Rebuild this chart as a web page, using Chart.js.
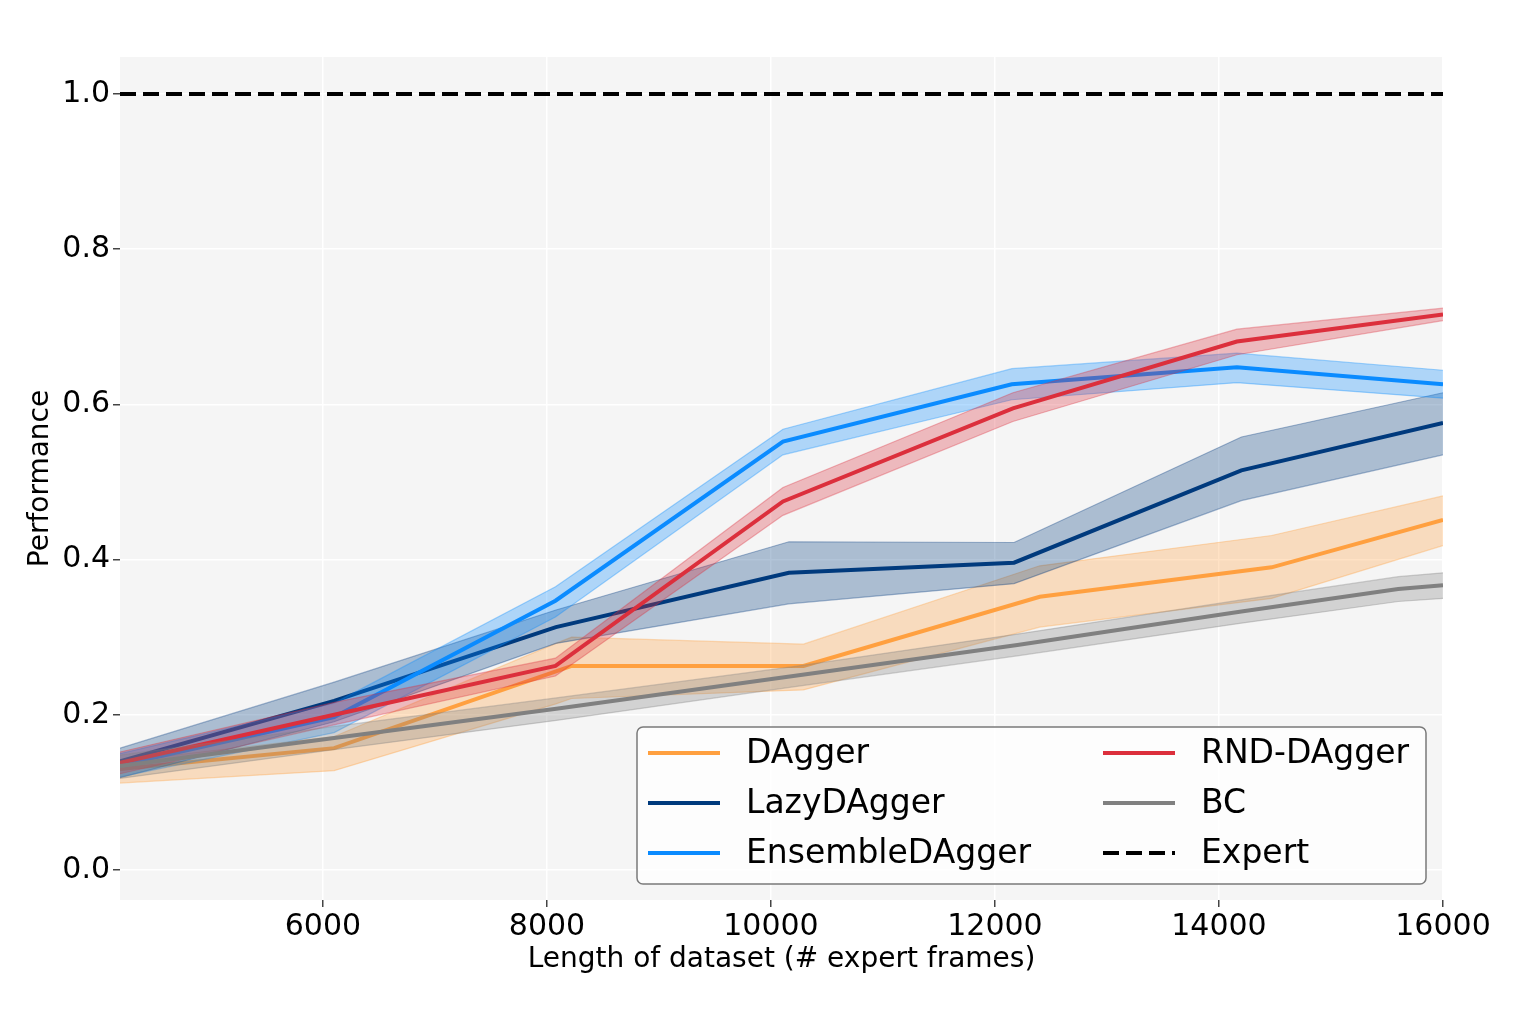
<!DOCTYPE html>
<html>
<head>
<meta charset="utf-8">
<script src="https://cdn.jsdelivr.net/npm/chart.js@4.4.1/dist/chart.umd.min.js"></script>
<style>
  body { margin: 0; background: #ffffff; }
  canvas { display: block; }
</style>
</head>
<body>
<canvas id="myChart" width="1522" height="1015"></canvas>
<script>
// values
const dagX = [4188, 6100, 8080, 8220, 10290, 12400, 14470, 16000];
const dagY = [0.130, 0.157, 0.256, 0.263, 0.263, 0.352, 0.390, 0.451];
const dagHi = [0.140, 0.172, 0.292, 0.300, 0.291, 0.392, 0.431, 0.482];
const dagLo = [0.112, 0.128, 0.214, 0.221, 0.232, 0.313, 0.350, 0.418];

const lazyX = [4188, 6100, 8080, 10160, 12170, 14200, 16000];
const lazyY = [0.140, 0.218, 0.313, 0.383, 0.396, 0.515, 0.576];
const lazyHi = [0.157, 0.242, 0.335, 0.423, 0.422, 0.558, 0.615];
const lazyLo = [0.119, 0.191, 0.292, 0.343, 0.369, 0.476, 0.535];

const ensX = [4188, 6100, 8076, 10107, 12150, 14160, 16000];
const ensY = [0.135, 0.197, 0.347, 0.552, 0.626, 0.648, 0.626];
const ensHi = [0.150, 0.215, 0.365, 0.568, 0.646, 0.666, 0.644];
const ensLo = [0.120, 0.177, 0.326, 0.535, 0.606, 0.628, 0.608];

const rndX = [4188, 6100, 8076, 10107, 12160, 14160, 16000];
const rndY = [0.138, 0.200, 0.263, 0.475, 0.595, 0.681, 0.716];
const rndHi = [0.152, 0.216, 0.273, 0.493, 0.615, 0.697, 0.724];
const rndLo = [0.124, 0.187, 0.250, 0.457, 0.578, 0.664, 0.708];

const bcX = [4188, 6100, 8100, 10200, 12200, 14200, 15600, 16000];
const bcY = [0.134, 0.170, 0.208, 0.250, 0.290, 0.333, 0.362, 0.367];
const bcHi = [0.148, 0.185, 0.222, 0.262, 0.304, 0.348, 0.378, 0.383];
const bcLo = [0.118, 0.155, 0.193, 0.236, 0.276, 0.318, 0.346, 0.350];

const expertX = [4188, 16000];
const expertY = [1.0, 1.0];

const xTicks = [6000, 8000, 10000, 12000, 14000, 16000];
const yTicks = [0.0, 0.2, 0.4, 0.6, 0.8, 1.0];

const series = [
  { label: 'DAgger', x: dagX, y: dagY, hi: dagHi, lo: dagLo, rgb: '255, 160, 64' },
  { label: 'LazyDAgger', x: lazyX, y: lazyY, hi: lazyHi, lo: lazyLo, rgb: '0, 58, 125' },
  { label: 'EnsembleDAgger', x: ensX, y: ensY, hi: ensHi, lo: ensLo, rgb: '10, 139, 255' },
  { label: 'RND-DAgger', x: rndX, y: rndY, hi: rndHi, lo: rndLo, rgb: '220, 47, 60' },
  { label: 'BC', x: bcX, y: bcY, hi: bcHi, lo: bcLo, rgb: '128, 128, 128' },
];

// column-major order of the legend
const legendOrder = ['DAgger', 'LazyDAgger', 'EnsembleDAgger', 'RND-DAgger', 'BC', 'Expert'];

function points(xs, ys) {
  return xs.map((x, i) => ({ x: x, y: ys[i] }));
}

function build_datasets() {
  const list = [];
  series.forEach((s) => {
    list.push({
      data: points(s.x, s.hi),
      borderColor: 'rgba(' + s.rgb + ', 0.35)',
      borderWidth: 1.2,
      backgroundColor: 'rgba(' + s.rgb + ', 0.3)',
      fill: '+1',
      band: true,
    });
    list.push({
      data: points(s.x, s.lo),
      borderColor: 'rgba(' + s.rgb + ', 0.35)',
      borderWidth: 1.2,
      fill: false,
      band: true,
    });
    list.push({
      label: s.label,
      data: points(s.x, s.y),
      borderColor: 'rgb(' + s.rgb + ')',
      borderWidth: 4,
      fill: false,
    });
  });
  list.push({
    label: 'Expert',
    data: points(expertX, expertY),
    borderColor: '#000000',
    borderWidth: 4,
    borderDash: [16, 7],
    fill: false,
  });
  // first in the list is painted first
  const n = list.length;
  list.forEach((d, i) => {
    d.order = n - i;
    d.pointRadius = 0;
    d.tension = 0;
  });
  return list;
}

const background = {
  id: 'background',
  beforeDraw(chart) {
    const ctx = chart.ctx;
    const a = chart.chartArea;
    ctx.save();
    ctx.fillStyle = '#ffffff';
    ctx.fillRect(0, 0, chart.width, chart.height);
    ctx.fillStyle = '#f5f5f5';
    ctx.fillRect(a.left, a.top, a.right - a.left, a.bottom - a.top);
    ctx.restore();
  },
};

const boxLegend = {
  id: 'boxLegend',
  afterDraw(chart) {
    const ctx = chart.ctx;
    const left = 637, top = 727, right = 1426, bottom = 884;
    ctx.save();
    ctx.beginPath();
    ctx.roundRect(left, top, right - left, bottom - top, 6);
    ctx.fillStyle = 'rgba(255, 255, 255, 0.8)';
    ctx.fill();
    ctx.lineWidth = 1.5;
    ctx.strokeStyle = '#7a7a7a';
    ctx.stroke();

    ctx.font = '33px "DejaVu Sans"';
    ctx.textBaseline = 'middle';
    ctx.fillStyle = '#000000';
    legendOrder.forEach((name, i) => {
      const ds = chart.data.datasets.find((d) => d.label === name);
      const col = Math.floor(i / 3);
      const row = i % 3;
      const lx = col === 0 ? 648 : 1103;
      const tx = col === 0 ? 746 : 1201;
      const y = 753 + row * 50;
      ctx.beginPath();
      ctx.setLineDash(ds.borderDash || []);
      ctx.lineWidth = 4;
      ctx.strokeStyle = ds.borderColor;
      ctx.moveTo(lx, y);
      ctx.lineTo(lx + 72, y);
      ctx.stroke();
      ctx.setLineDash([]);
      ctx.fillText(name, tx, y + 1);
    });
    ctx.restore();
  },
};

function draw_chart() {
  const config = {
    type: 'line',
    data: { datasets: build_datasets() },
    options: {
      responsive: false,
      animation: false,
      devicePixelRatio: 1,
      layout: { padding: { left: 0, right: 79, top: 57, bottom: 0 }, autoPadding: false },
      plugins: {
        legend: { display: false },
        tooltip: { enabled: false },
      },
      scales: {
        x: {
          type: 'linear',
          min: 4188,
          max: 16000,
          afterBuildTicks: (axis) => {
            axis.ticks = xTicks.map((v) => ({ value: v }));
          },
          afterFit: (axis) => {
            axis.height = 115;
          },
          border: { display: false },
          grid: { color: '#ffffff', lineWidth: 1.5, tickColor: '#444444', tickLength: 7 },
          ticks: {
            color: '#000000',
            font: { family: 'DejaVu Sans', size: 30 },
            padding: 2,
            maxRotation: 0,
            callback: (v) => String(v),
          },
          title: {
            display: true,
            text: 'Length of dataset (# expert frames)',
            color: '#000000',
            font: { family: 'DejaVu Sans', size: 28 },
            padding: { top: 0, bottom: 38 },
          },
        },
        y: {
          min: -0.0387,
          max: 1.0477,
          afterBuildTicks: (axis) => {
            axis.ticks = yTicks.map((v) => ({ value: v }));
          },
          afterFit: (axis) => {
            axis.width = 120;
          },
          border: { display: false },
          grid: { color: '#ffffff', lineWidth: 1.5, tickColor: '#444444', tickLength: 7 },
          ticks: {
            color: '#000000',
            font: { family: 'DejaVu Sans', size: 30 },
            padding: 3,
            callback: (v) => v.toFixed(1),
          },
          title: {
            display: true,
            text: 'Performance',
            color: '#000000',
            font: { family: 'DejaVu Sans', size: 28 },
            padding: { top: 24, bottom: 0 },
          },
        },
      },
    },
    plugins: [background, boxLegend],
  };

  new Chart(document.getElementById('myChart'), config);
}

draw_chart();
</script>
</body>
</html>
